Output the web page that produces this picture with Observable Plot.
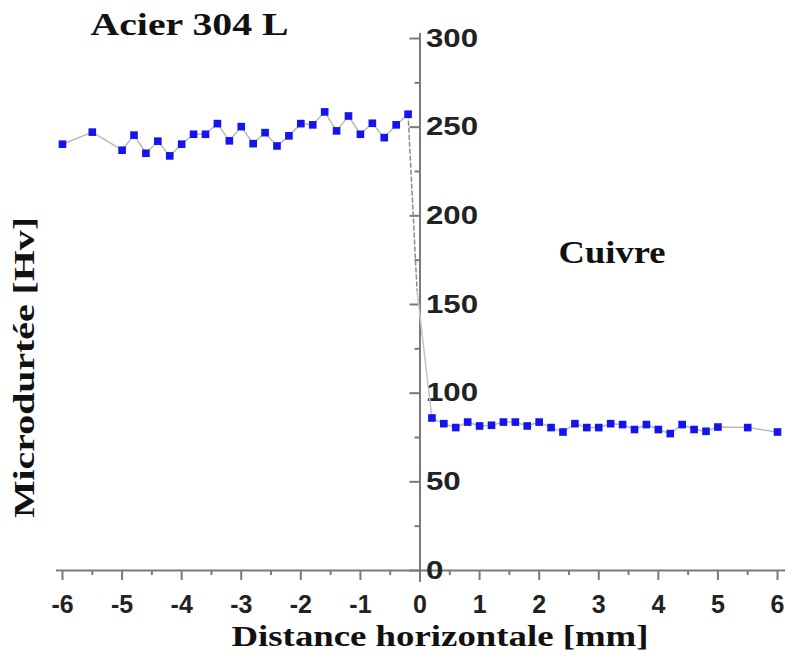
<!DOCTYPE html>
<html>
<head>
<meta charset="utf-8">
<script src="https://cdn.jsdelivr.net/npm/d3@7"></script>
<script src="https://cdn.jsdelivr.net/npm/@observablehq/plot@0.6"></script>
<style>
  html, body { margin: 0; padding: 0; background: #fff; }
</style>
</head>
<body>
<script>
// Steel side (Acier 304 L)
const steelX  = [-6, -5.5, -5, -4.8, -4.6, -4.4, -4.2, -4.0, -3.8, -3.6, -3.4, -3.2, -3.0, -2.8, -2.6, -2.4, -2.2, -2.0, -1.8, -1.6, -1.4, -1.2, -1.0, -0.8, -0.6, -0.4, -0.2];
const steelHv = [240.4, 247.2, 237.0, 245.5, 235.3, 242.1, 233.8, 240.4, 246.0, 246.0, 252.0, 242.3, 250.3, 240.7, 246.9, 239.4, 245.1, 252.0, 251.3, 258.6, 247.9, 256.3, 246.0, 252.2, 244.1, 251.3, 257.3];
// Copper side (Cuivre)
const copperX  = [0.2, 0.4, 0.6, 0.8, 1.0, 1.2, 1.4, 1.6, 1.8, 2.0, 2.2, 2.4, 2.6, 2.8, 3.0, 3.2, 3.4, 3.6, 3.8, 4.0, 4.2, 4.4, 4.6, 4.8, 5.0, 5.5, 6.0];
const copperHv = [86.0, 82.8, 80.6, 83.7, 81.5, 81.9, 83.7, 83.7, 81.5, 83.7, 80.6, 78.1, 82.8, 80.6, 80.6, 82.8, 82.3, 79.5, 82.3, 79.5, 77.2, 82.3, 79.5, 78.5, 80.9, 80.6, 78.1];
// Interface transition (line only)
const jumpX  = [-0.2, -0.05, 0.2];
const jumpHv = [257.3, 158, 86.0];

// Axis ticks and labels
const xMajor = [-6, -5, -4, -3, -2, -1, 0, 1, 2, 3, 4, 5, 6];
const xMinor = [-5.5, -4.5, -3.5, -2.5, -1.5, -0.5, 0.5, 1.5, 2.5, 3.5, 4.5, 5.5];
const xTickLabels = ["-6", "-5", "-4", "-3", "-2", "-1", "0", "1", "2", "3", "4", "5", "6"];
const yMajor = [0, 50, 100, 150, 200, 250, 300];
const yMinor = [25, 75, 125, 175, 225, 275];
const yTickLabels = ["0", "50", "100", "150", "200", "250", "300"];

const titleSteel = "Acier 304 L";
const titleCopper = "Cuivre";
const xLabel = "Distance horizontale [mm]";
const yLabel = "Microdurtée [Hv]";

const steel = steelX.map((x, i) => ({x, hv: steelHv[i]}));
const copper = copperX.map((x, i) => ({x, hv: copperHv[i]}));
const jump = jumpX.map((x, i) => ({x, hv: jumpHv[i]}));
const xTicks = xMajor.map((v, i) => ({v, label: xTickLabels[i]}));
const yTicks = yMajor.map((v, i) => ({v, label: yTickLabels[i]}));

const axisColor = "#7a7a7a";
const blue = "#1414ee";
const lineColor = "#b8bcb2";
const serif = "Liberation Serif, Times New Roman, serif";
const sans = "Liberation Sans, Arial, sans-serif";

const ann = {frameAnchor: "top-left", text: d => d, textAnchor: "middle", lineAnchor: "middle", fontWeight: "bold", fontFamily: serif, fill: "#111"};

const chart = Plot.plot({
  width: 792,
  height: 660,
  marginLeft: 62,
  marginRight: 15,
  marginTop: 38,
  marginBottom: 90,
  x: {domain: [-6, 6], axis: null},
  y: {domain: [0, 300], axis: null},
  style: {background: "white", overflow: "visible"},
  marks: [
    // x axis line and ticks
    Plot.ruleY([0], {stroke: axisColor, strokeWidth: 2, insetLeft: -6, insetRight: -8}),
    Plot.ruleX(xMajor, {x: d => d, y1: 0, y2: 0, insetBottom: -10, stroke: axisColor, strokeWidth: 2}),
    Plot.ruleX(xMinor, {x: d => d, y1: 0, y2: 0, insetBottom: -5, stroke: axisColor, strokeWidth: 2}),
    Plot.text(xTicks, {ariaDescription: "xticklabels", x: "v", y: 0, text: "label", dy: 34, fontSize: 25, fontWeight: "bold", fontFamily: sans, fill: "#222"}),
    // y axis line at x = 0, ticks to the left, labels to the right
    Plot.ruleX([0], {stroke: axisColor, strokeWidth: 2, insetTop: -5, insetBottom: -12}),
    Plot.ruleY(yMajor, {y: d => d, x1: 0, x2: 0, insetLeft: -10, stroke: axisColor, strokeWidth: 2}),
    Plot.ruleY(yMinor, {y: d => d, x1: 0, x2: 0, insetLeft: -5, stroke: axisColor, strokeWidth: 2}),
    Plot.text(yTicks, {ariaDescription: "yticklabels", x: 0, y: "v", text: "label", dx: 6, textAnchor: "start", fontSize: 26, fontWeight: "bold", fontFamily: sans, fill: "#222"}),
    // lines
    Plot.line(steel, {x: "x", y: "hv", stroke: lineColor, strokeWidth: 1.5}),
    Plot.line(copper, {x: "x", y: "hv", stroke: lineColor, strokeWidth: 1.5}),
    Plot.line(jump.slice(0, 2), {x: "x", y: "hv", stroke: "#8c8c8c", strokeWidth: 1.5, strokeDasharray: "4,3"}),
    Plot.line(jump.slice(1), {x: "x", y: "hv", stroke: "#c4c4c4", strokeWidth: 1.5}),
    // points
    Plot.dot(steel, {x: "x", y: "hv", symbol: "square", r: 4.3, fill: blue, stroke: null}),
    Plot.dot(copper, {x: "x", y: "hv", symbol: "square", r: 4.3, fill: blue, stroke: null}),
    // annotations
    Plot.text([titleSteel], {...ann, ariaDescription: "t-steel", dx: 127, dy: -13.5, fontSize: 31}),
    Plot.text([titleCopper], {...ann, ariaDescription: "t-copper", dx: 549.5, dy: 214.5, fontSize: 32}),
    Plot.text([xLabel], {...ann, ariaDescription: "t-xlabel", dx: 377.5, dy: 598, fontSize: 29}),
    Plot.text([yLabel], {...ann, ariaDescription: "t-ylabel", dx: -38, dy: 329, rotate: -90, fontSize: 30})
  ]
});

document.body.append(chart);

function texts(label) {
  return chart.querySelectorAll(`g[aria-description="${label}"] text`);
}
function stretchBy(label, f) {
  texts(label).forEach(t => {
    const L = t.getComputedTextLength();
    t.setAttribute("textLength", (L * f).toFixed(1));
    t.setAttribute("lengthAdjust", "spacingAndGlyphs");
  });
}
function stretchTo(label, w) {
  texts(label).forEach(t => {
    t.setAttribute("textLength", w);
    t.setAttribute("lengthAdjust", "spacingAndGlyphs");
  });
}
stretchBy("yticklabels", 1.2);
stretchBy("xticklabels", 1.0);
stretchTo("t-steel", 198);
stretchTo("t-copper", 107);
stretchTo("t-xlabel", 417);
stretchTo("t-ylabel", 301);
</script>
</body>
</html>
